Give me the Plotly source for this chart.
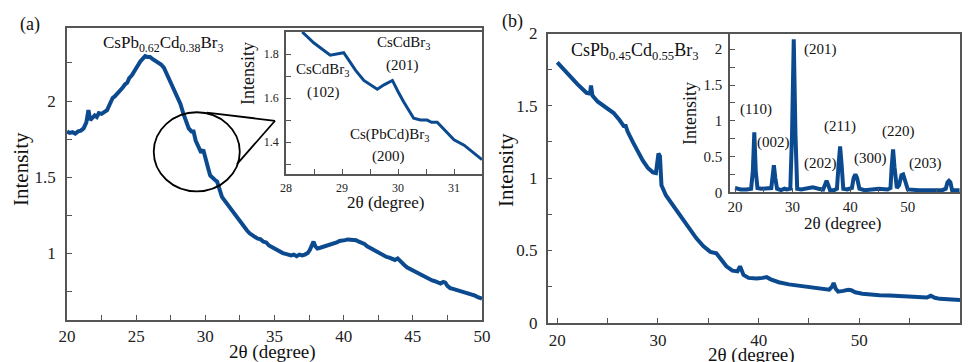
import plotly.graph_objects as go

W, H = 968, 362
def px(x):
    return x / W
def py(y):
    return 1 - y / H

# ---------------- data ----------------
a_x = [20.0, 20.2, 20.4, 20.6, 20.8, 21.0, 21.2, 21.4, 21.55, 21.68, 21.85, 22.0, 22.15, 22.3, 22.5,
       22.7, 22.9, 23.1, 23.3, 23.45, 23.6, 23.8, 24.0, 24.2, 24.35, 24.5, 24.7, 24.9, 25.1, 25.3,
       25.5, 25.65, 25.8, 26.0, 26.2, 26.4, 26.6, 26.8, 27.0, 27.2, 27.4, 27.6, 27.8, 28.0, 28.2,
       28.4, 28.6, 28.8, 29.0, 29.15, 29.3, 29.5, 29.7, 29.85, 30.0, 30.2, 30.35, 30.5, 30.7, 30.85,
       31.0, 31.2, 31.4, 31.6, 31.8, 32.0, 32.2, 32.4, 32.6, 32.8, 33.0, 33.2, 33.4, 33.6, 33.8,
       34.0, 34.2, 34.4, 34.6, 34.8, 35.0, 35.2, 35.4, 35.6, 35.8, 36.0, 36.2, 36.4, 36.6, 36.8,
       37.0, 37.2, 37.4, 37.55, 37.7, 37.82, 37.95, 38.1, 38.3, 38.5, 38.7, 38.9, 39.1, 39.3, 39.5,
       39.7, 39.9, 40.1, 40.3, 40.5, 40.7, 40.9, 41.1, 41.3, 41.5, 41.7, 41.9, 42.1, 42.3, 42.5,
       42.7, 42.9, 43.1, 43.3, 43.5, 43.7, 43.9, 44.05, 44.2, 44.4, 44.6, 44.8, 45.0, 45.2, 45.4,
       45.6, 45.8, 46.0, 46.2, 46.4, 46.6, 46.8, 47.0, 47.2, 47.35, 47.5, 47.7, 47.9, 48.1, 48.3,
       48.5, 48.7, 48.9, 49.1, 49.3, 49.5, 49.7, 49.85, 50.0]
a_y = [1.80, 1.79, 1.795, 1.785, 1.80, 1.805, 1.82, 1.86, 1.94, 1.875, 1.89, 1.905, 1.895, 1.92, 1.915,
       1.93, 1.94, 1.98, 2.02, 2.03, 2.045, 2.06, 2.085, 2.11, 2.12, 2.15, 2.17, 2.20, 2.235, 2.26,
       2.28, 2.295, 2.29, 2.29, 2.275, 2.265, 2.255, 2.24, 2.22, 2.18, 2.15, 2.11, 2.07, 2.03, 1.98,
       1.92, 1.87, 1.82, 1.80, 1.80, 1.74, 1.70, 1.66, 1.68, 1.62, 1.56, 1.51, 1.495, 1.48, 1.47,
       1.42, 1.37, 1.345, 1.32, 1.29, 1.27, 1.245, 1.22, 1.19, 1.165, 1.15, 1.13, 1.115, 1.105, 1.095,
       1.09, 1.075, 1.07, 1.05, 1.04, 1.025, 1.015, 1.01, 1.0, 0.995, 0.99, 0.985, 0.99, 0.98, 0.99,
       0.985, 0.99, 1.00, 1.02, 1.05, 1.075, 1.045, 1.03, 1.035, 1.04, 1.045, 1.055, 1.06, 1.065, 1.07,
       1.08, 1.08, 1.085, 1.09, 1.09, 1.09, 1.085, 1.075, 1.07, 1.06, 1.045, 1.035, 1.02, 1.01, 1.0,
       0.99, 0.985, 0.975, 0.97, 0.96, 0.955, 0.965, 0.95, 0.935, 0.92, 0.905, 0.895, 0.885, 0.875, 0.865,
       0.855, 0.845, 0.835, 0.83, 0.82, 0.815, 0.805, 0.80, 0.81, 0.805, 0.785, 0.77, 0.765, 0.76, 0.755,
       0.75, 0.745, 0.74, 0.735, 0.725, 0.72, 0.71, 0.705, 0.70]

ai_x = [28.29, 28.5, 28.79, 28.9, 29.03, 29.1, 29.24, 29.39, 29.5, 29.63, 29.75, 29.9, 30.0,
        30.1, 30.28, 30.4, 30.52, 30.6, 30.7, 30.88, 31.0, 31.18, 31.35, 31.5]
ai_y = [1.90, 1.85, 1.795, 1.80, 1.806, 1.78, 1.727, 1.68, 1.66, 1.64, 1.66, 1.68, 1.63,
        1.583, 1.508, 1.50, 1.50, 1.49, 1.49, 1.44, 1.41, 1.386, 1.35, 1.32]

b_x = [20.0, 21.0, 22.0, 22.9, 23.25, 23.35, 23.5, 24.0, 25.0, 25.6, 26.2, 26.6, 26.8, 27.0,
       27.5, 28.0, 28.5, 29.0, 29.5, 29.8, 30.05, 30.2, 30.35, 30.8, 31.5, 32.2, 33.0, 33.8,
       34.5, 35.2, 35.8, 36.2, 36.8, 37.4, 37.9, 38.15, 38.3, 38.5, 39.0, 39.8, 40.4, 40.8,
       41.2, 42.0, 43.0, 44.0, 45.0, 46.0, 47.0, 47.3, 47.45, 47.65, 47.9, 48.4, 48.9, 49.2,
       49.6, 50.3, 51.0, 52.0, 53.0, 54.0, 55.0, 56.0, 56.7, 57.1, 57.5, 58.0, 59.0, 60.0]
b_y = [1.80, 1.72, 1.65, 1.59, 1.585, 1.64, 1.57, 1.53, 1.48, 1.45, 1.40, 1.36, 1.36, 1.32,
       1.25, 1.18, 1.12, 1.07, 1.04, 1.035, 1.17, 1.15, 0.95, 0.88, 0.81, 0.735, 0.66, 0.585,
       0.53, 0.49, 0.48, 0.44, 0.39, 0.36, 0.355, 0.39, 0.37, 0.33, 0.31, 0.305, 0.31, 0.315,
       0.30, 0.28, 0.265, 0.255, 0.245, 0.235, 0.228, 0.25, 0.275, 0.235, 0.215, 0.22, 0.228, 0.225,
       0.21, 0.20, 0.195, 0.19, 0.188, 0.185, 0.182, 0.178, 0.174, 0.186, 0.172, 0.165, 0.16, 0.157]

bi_x = [20.0, 21.0, 22.0, 22.8, 23.1, 23.35, 23.6, 23.9, 24.5, 25.5, 26.3, 26.5, 26.75, 27.0,
        27.3, 28.0, 28.6, 29.0, 29.6, 29.9, 30.2, 30.5, 30.8, 31.5, 32.5, 33.5, 34.5, 35.3,
        35.6, 35.9, 36.2, 36.5, 37.2, 37.7, 38.0, 38.25, 38.5, 38.8, 39.5, 40.3, 40.6, 40.9,
        41.2, 41.6, 42.5, 44.0, 45.0, 46.5, 47.0, 47.2, 47.45, 47.7, 48.1, 48.5, 48.9, 49.2,
        49.5, 50.0, 52.0, 54.0, 56.0, 56.6, 56.9, 57.15, 57.4, 57.7, 59.0]
bi_y = [0.06, 0.04, 0.04, 0.05, 0.3, 0.84, 0.3, 0.06, 0.05, 0.05, 0.06, 0.2, 0.38, 0.2,
        0.05, 0.03, 0.05, 0.04, 0.05, 0.8, 2.14, 0.8, 0.05, 0.04, 0.06, 0.07, 0.05, 0.04,
        0.1, 0.16, 0.1, 0.03, 0.03, 0.05, 0.4, 0.64, 0.4, 0.05, 0.04, 0.06, 0.2, 0.25,
        0.2, 0.05, 0.03, 0.04, 0.05, 0.04, 0.06, 0.35, 0.6, 0.35, 0.06, 0.1, 0.24, 0.25,
        0.15, 0.04, 0.03, 0.03, 0.03, 0.05, 0.14, 0.16, 0.14, 0.03, 0.03]

peak_labels = ["(110)", "(002)", "(201)", "(202)", "(211)", "(300)", "(220)", "(203)"]

# ---------------- figure ----------------
BLUE = "#0b4a8f"
FR = "#555555"
FONT = "Liberation Serif, Times New Roman, DejaVu Serif, serif"

fig = go.Figure()
fig.add_trace(go.Scatter(x=a_x, y=a_y, mode="lines", line=dict(color=BLUE, width=4), xaxis="x", yaxis="y"))
fig.add_trace(go.Scatter(x=ai_x, y=ai_y, mode="lines", line=dict(color=BLUE, width=3), xaxis="x2", yaxis="y2"))
fig.add_trace(go.Scatter(x=b_x, y=b_y, mode="lines", line=dict(color=BLUE, width=4), xaxis="x3", yaxis="y3"))
fig.add_trace(go.Scatter(x=bi_x, y=bi_y, mode="lines", line=dict(color=BLUE, width=4), xaxis="x4", yaxis="y4"))

def ax(domain, rng, dtick, mdtick, anchor, fs, standoff=2, tick0=None):
    d = dict(domain=domain, range=rng, dtick=dtick, anchor=anchor, showgrid=False, zeroline=False,
             automargin=False, ticklabelstandoff=standoff,
             showline=True, linecolor=FR, linewidth=1.5, mirror=True, ticks="inside", ticklen=5,
             tickwidth=1.2, tickcolor=FR, tickfont=dict(family=FONT, size=fs, color="#222"),
             minor=dict(ticks="inside", ticklen=5, tickwidth=1.2, tickcolor=FR, dtick=mdtick, showgrid=False))
    if tick0 is not None:
        d["tick0"] = tick0
        d["minor"]["tick0"] = tick0
    return d

fig.update_layout(
    width=W, height=H, margin=dict(l=0, r=0, t=0, b=0),
    paper_bgcolor="white", plot_bgcolor="white", showlegend=False,
    font=dict(family=FONT),
    xaxis=ax([px(67), px(482)], [20, 50], 5, 2.5, "y", 17, standoff=0),
    yaxis=ax([py(320), py(28)], [0.56, 2.48], 0.5, 0.25, "x", 17, standoff=6),
    xaxis2=ax([px(286), px(482)], [28, 31.5], 1, 0.5, "y2", 12, standoff=2),
    yaxis2=ax([py(174), py(32)], [1.255, 1.9], 0.2, 0.1, "x2", 12, standoff=3, tick0=0),
    xaxis3=ax([px(547.7), px(960)], [19.05, 60], 10, 5, "y3", 17, standoff=1),
    yaxis3=ax([py(322.7), py(33.5)], [0, 2], 0.5, 0.25, "x3", 17, standoff=5),
    xaxis4=ax([px(730), px(960)], [19.13, 59.07], 10, 5, "y4", 15, standoff=0),
    yaxis4=ax([py(192.3), py(33.5)], [0, 2.22], 0.5, 0.25, "x4", 15, standoff=3),
)

# ellipse and pointer lines in panel (a)
fig.add_shape(type="circle", xref="x", yref="y", x0=26.27, x1=32.49, y0=1.406, y1=1.926,
              line=dict(color="black", width=1.8))
fig.add_shape(type="line", xref="x", yref="y", x0=30.1, y0=1.923, x1=35.04, y1=1.87,
              line=dict(color="black", width=1.8))
fig.add_shape(type="line", xref="x", yref="y", x0=32.29, y0=1.585, x1=35.04, y1=1.87,
              line=dict(color="black", width=1.8))

def ann(text, x, y, size, rot=0, xanchor="center", yanchor="middle"):
    fig.add_annotation(text=text, x=px(x), y=py(y), xref="paper", yref="paper", showarrow=False,
                       textangle=rot, xanchor=xanchor, yanchor=yanchor, borderpad=0,
                       font=dict(family=FONT, size=size, color="#111"))

# panel labels
ann("(a)", 30, 24, 18)
ann("(b)", 512, 21, 18)
# compositions
ann("CsPb<sub>0.62</sub>Cd<sub>0.38</sub>Br<sub>3</sub>", 163, 44, 17)
ann("CsPb<sub>0.45</sub>Cd<sub>0.55</sub>Br<sub>3</sub>", 634, 52, 18)
# axis titles
ann("Intensity", 21, 169, 21, rot=-90)
ann("2θ (degree)", 272, 352, 19)
ann("Intensity", 248, 73, 18, rot=-90)
ann("2θ (degree)", 386, 203, 17)
ann("Intensity", 506, 170, 21, rot=-90)
ann("2θ (degree)", 751, 355, 19)
ann("Intensity", 690, 114, 18, rot=-90)
ann("2θ (degree)", 843, 223, 17)
# inset (a) labels
ann("CsCdBr<sub>3</sub>", 323, 70, 15)
ann("(102)", 323, 92, 15)
ann("CsCdBr<sub>3</sub>", 404, 43, 15)
ann("(201)", 402, 66, 15)
ann("Cs(PbCd)Br<sub>3</sub>", 389, 135, 15)
ann("(200)", 388, 157, 15)
# inset (b) peak labels
peak_pos = [(756, 109), (773, 143), (820, 49), (820, 163), (840, 126), (870, 158), (898, 131), (925, 163)]
for t, (x, y) in zip(peak_labels, peak_pos):
    ann(t, x, y, 15)

fig.write_html("out.html")
